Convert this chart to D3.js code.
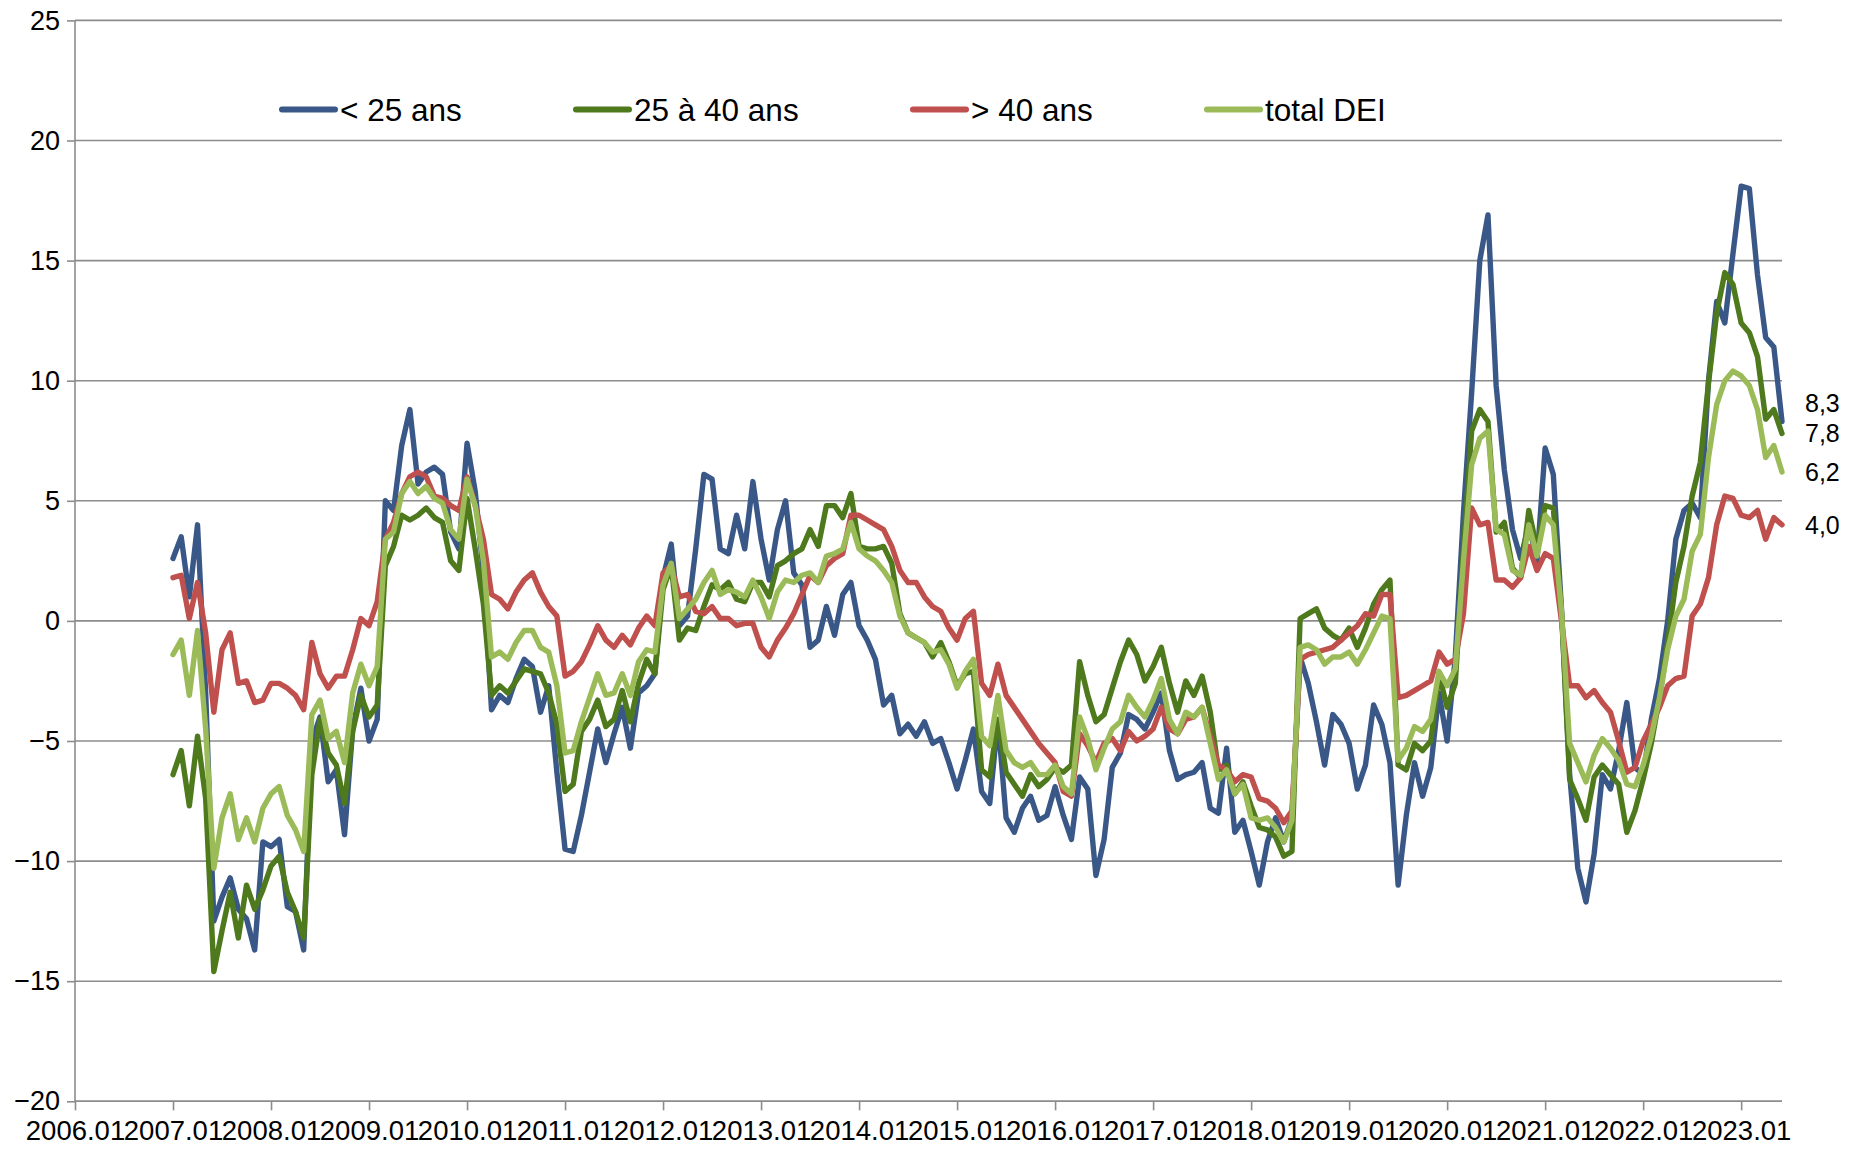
<!DOCTYPE html>
<html><head><meta charset="utf-8">
<script src="https://cdn.jsdelivr.net/npm/d3@7"></script>
<style>body{margin:0;background:#fff;} svg{display:block;}</style>
</head><body><svg id="c" width="1865" height="1153"></svg>
<script>
// ---- categories (monthly, 2006.01 .. 2023.06) ----
const categories = [];
for (let y = 2006; y <= 2023; y++) for (let m = 1; m <= 12; m++) {
  if (y === 2023 && m > 6) break;
  categories.push(y + "." + String(m).padStart(2, "0"));
}
const xTickLabels = ["2006.01","2007.01","2008.01","2009.01","2010.01","2011.01","2012.01","2013.01","2014.01","2015.01","2016.01","2017.01","2018.01","2019.01","2020.01","2021.01","2022.01","2023.01"];
const yTicks = [-20,-15,-10,-5,0,5,10,15,20,25];
const dataStart = "2007.01";

// ---- series values, monthly from 2007.01 ----
const under25 = [
 2.6,3.5,1.0,4.0,-3.0,-12.5,-11.5,-10.7,-12.0,-12.4,-13.7,-9.2,
 -9.4,-9.1,-11.9,-12.1,-13.7,-5.0,-4.0,-6.7,-6.2,-8.9,-4.5,-2.8,
 -5.0,-4.1,5.0,4.6,7.3,8.8,5.7,6.2,6.4,6.1,3.7,3.0,
 7.4,5.4,2.0,-3.7,-3.1,-3.4,-2.4,-1.6,-1.9,-3.8,-2.7,-6.3,
 -9.5,-9.6,-8.1,-6.3,-4.5,-5.9,-4.7,-3.6,-5.3,-3.0,-2.7,-2.2,
 1.8,3.2,-0.2,0.2,3.0,6.1,5.9,3.0,2.8,4.4,3.0,5.8,
 3.4,1.7,3.8,5.0,2.0,1.5,-1.1,-0.8,0.6,-0.6,1.1,1.6,
 -0.2,-0.8,-1.6,-3.5,-3.1,-4.7,-4.3,-4.8,-4.2,-5.1,-4.9,-5.9,
 -7.0,-5.8,-4.5,-7.1,-7.6,-4.1,-8.2,-8.8,-7.8,-7.3,-8.3,-8.1,
 -6.9,-8.1,-9.1,-6.5,-7.0,-10.6,-9.1,-6.1,-5.5,-3.9,-4.1,-4.5,
 -3.8,-3.0,-5.4,-6.6,-6.4,-6.3,-5.9,-7.8,-8.0,-5.3,-8.8,-8.3,
 -9.6,-11.0,-9.2,-8.2,-9.2,-8.2,-1.5,-2.6,-4.2,-6.0,-3.9,-4.3,
 -5.1,-7.0,-6.0,-3.5,-4.3,-5.9,-11.0,-8.1,-5.9,-7.3,-6.1,-3.0,
 -5.0,-1.5,4.5,9.5,15.0,16.9,9.8,6.3,3.8,2.6,4.0,2.5,
 7.2,6.1,0.5,-6.4,-10.3,-11.7,-9.7,-6.4,-7.0,-5.4,-3.4,-6.1,
 -6.4,-4.1,-2.4,0.0,3.4,4.6,4.9,4.3,10.0,13.3,12.4,15.3,
 18.1,18.0,14.4,11.8,11.4,8.3
];
const age25to40 = [
 -6.4,-5.4,-7.7,-4.8,-7.4,-14.6,-12.9,-11.3,-13.2,-11.0,-12.0,-11.2,
 -10.2,-9.8,-11.3,-12.1,-13.2,-6.4,-4.1,-5.5,-6.0,-7.6,-4.6,-3.1,
 -4.0,-3.5,2.3,3.1,4.4,4.2,4.4,4.7,4.3,4.1,2.5,2.1,
 5.1,3.0,0.7,-3.1,-2.7,-3.0,-2.5,-2.0,-2.1,-2.2,-3.0,-4.3,
 -7.1,-6.8,-4.6,-4.1,-3.3,-4.4,-4.1,-2.9,-4.2,-2.6,-1.6,-2.2,
 1.3,2.3,-0.8,-0.3,-0.4,0.6,1.5,1.3,1.6,0.9,0.8,1.6,
 1.6,1.0,2.3,2.5,2.8,3.0,3.8,3.1,4.8,4.8,4.3,5.3,
 3.1,3.0,3.0,3.1,2.4,0.3,-0.5,-0.7,-0.9,-1.5,-0.9,-1.7,
 -2.7,-2.2,-2.1,-6.2,-6.5,-4.1,-6.3,-6.8,-7.3,-6.4,-6.9,-6.6,
 -6.1,-6.3,-6.0,-1.7,-3.1,-4.2,-3.9,-2.8,-1.7,-0.8,-1.4,-2.5,
 -1.9,-1.1,-2.6,-3.8,-2.5,-3.1,-2.3,-3.8,-6.2,-6.0,-7.2,-6.7,
 -7.7,-8.6,-8.7,-9.0,-9.8,-9.6,0.1,0.3,0.5,-0.3,-0.6,-0.8,
 -0.3,-1.1,-0.3,0.7,1.3,1.7,-6.0,-6.2,-5.1,-5.4,-5.0,-2.2,
 -3.6,-2.6,3.0,7.9,8.8,8.3,3.7,4.1,2.2,1.8,4.6,3.0,
 4.8,4.7,0.4,-6.6,-7.4,-8.3,-6.5,-6.0,-6.4,-6.8,-8.8,-7.9,
 -6.6,-5.1,-3.2,-0.9,1.6,3.1,5.2,6.6,9.9,12.8,14.5,14.0,
 12.4,12.0,11.0,8.4,8.8,7.8
];
const over40 = [
 1.8,1.9,0.1,1.6,-0.5,-3.8,-1.2,-0.5,-2.6,-2.5,-3.4,-3.3,
 -2.6,-2.6,-2.8,-3.1,-3.7,-0.9,-2.2,-2.8,-2.3,-2.3,-1.2,0.1,
 -0.2,0.8,3.4,4.1,5.3,6.0,6.2,6.0,5.2,5.1,4.8,4.6,
 6.0,4.8,3.4,1.1,0.9,0.5,1.2,1.7,2.0,1.2,0.6,0.2,
 -2.3,-2.1,-1.7,-1.0,-0.2,-0.8,-1.1,-0.6,-1.0,-0.3,0.2,-0.2,
 2.0,2.3,1.0,1.1,0.4,0.3,0.6,0.1,0.1,-0.2,-0.1,-0.1,
 -1.1,-1.5,-0.8,-0.3,0.3,1.1,1.9,1.6,2.3,2.6,2.8,4.4,
 4.4,4.2,4.0,3.8,3.1,2.1,1.6,1.6,1.0,0.6,0.4,-0.3,
 -0.8,0.1,0.4,-2.6,-3.1,-1.8,-3.1,-3.6,-4.1,-4.6,-5.1,-5.5,
 -5.9,-7.1,-7.3,-4.7,-5.2,-5.9,-5.1,-4.9,-5.4,-4.6,-5.0,-4.8,
 -4.5,-3.6,-4.5,-4.7,-4.1,-4.0,-3.6,-4.8,-6.0,-6.2,-6.7,-6.4,
 -6.5,-7.4,-7.5,-7.8,-8.4,-7.9,-1.6,-1.4,-1.3,-1.2,-1.1,-0.8,
 -0.5,-0.2,0.3,0.2,1.1,1.1,-3.2,-3.1,-2.9,-2.7,-2.5,-1.3,
 -1.8,-1.6,0.3,4.7,4.0,4.1,1.7,1.7,1.4,1.8,3.1,2.1,
 2.8,2.6,0.0,-2.7,-2.7,-3.2,-2.9,-3.4,-3.8,-5.0,-6.3,-6.1,
 -5.0,-4.3,-3.6,-2.7,-2.4,-2.3,0.2,0.7,1.8,4.0,5.2,5.1,
 4.4,4.3,4.6,3.4,4.3,4.0
];
const totalDEI = [
 -1.4,-0.8,-3.1,-0.4,-4.5,-10.3,-8.2,-7.2,-9.1,-8.2,-9.2,-7.8,
 -7.2,-6.9,-8.1,-8.7,-9.6,-3.9,-3.3,-4.9,-4.6,-5.9,-3.0,-1.8,
 -2.7,-1.9,3.4,3.7,5.3,5.8,5.3,5.6,5.1,4.9,3.8,3.4,
 5.9,4.8,2.5,-1.5,-1.3,-1.6,-0.9,-0.4,-0.4,-1.1,-1.3,-2.7,
 -5.5,-5.4,-4.2,-3.2,-2.2,-3.1,-3.0,-2.2,-3.1,-1.7,-1.2,-1.3,
 1.5,2.4,0.1,0.5,0.9,1.6,2.1,1.1,1.3,1.2,1.0,1.7,
 1.0,0.1,1.2,1.7,1.6,1.9,2.0,1.6,2.7,2.8,3.0,4.1,
 3.0,2.7,2.5,2.1,1.6,0.2,-0.5,-0.7,-0.9,-1.3,-1.2,-1.8,
 -2.8,-2.1,-1.6,-4.8,-5.2,-3.1,-5.4,-5.9,-6.1,-5.9,-6.4,-6.4,
 -6.0,-6.9,-7.2,-4.0,-4.9,-6.2,-5.3,-4.5,-4.2,-3.1,-3.6,-4.0,
 -3.3,-2.4,-4.1,-4.7,-3.8,-4.0,-3.6,-5.1,-6.6,-6.2,-7.2,-6.8,
 -8.2,-8.3,-8.2,-8.6,-9.2,-8.3,-1.1,-1.0,-1.2,-1.8,-1.5,-1.5,
 -1.3,-1.8,-1.2,-0.5,0.2,0.1,-5.8,-5.3,-4.4,-4.6,-4.1,-2.1,
 -2.7,-2.0,2.5,6.5,7.6,7.9,3.8,3.6,2.1,1.9,4.0,2.7,
 4.4,4.0,0.4,-5.1,-5.9,-6.7,-5.6,-4.9,-5.3,-5.8,-6.8,-6.9,
 -6.0,-4.8,-3.2,-1.2,0.2,0.9,2.9,3.6,6.8,9.0,10.0,10.4,
 10.2,9.8,8.8,6.8,7.3,6.2
];
const seriesNames = ["< 25 ans", "25 à 40 ans", "> 40 ans", "total DEI"];
const seriesColors = ["#3a5887", "#4e791c", "#c0504d", "#9bbb59"];
const seriesValues = [under25, age25to40, over40, totalDEI];

// ---- drawing ----
const svg = d3.select("#c");
const FONT = "'Liberation Sans', Arial, sans-serif";
const L = 75, R = 1782, T = 20.4, B = 1101.3;
const x = d3.scalePoint().domain(categories).range([L, R]).padding(0);
const y = d3.scaleLinear().domain([-20, 25]).range([B, T]);
const GRID = "#8c8c8c";

// gridlines
svg.append("g").selectAll("line").data(yTicks).join("line")
  .attr("x1", L).attr("x2", R)
  .attr("y1", d => y(d)).attr("y2", d => y(d))
  .attr("stroke", GRID).attr("stroke-width", 1.6);

// y axis
const yAxis = svg.append("g").attr("transform", `translate(${L},0)`)
  .call(d3.axisLeft(y).tickValues(yTicks).tickSize(8).tickPadding(7).tickFormat(d3.format("d")));
yAxis.selectAll("path,line").attr("stroke", GRID).attr("stroke-width", 1.6);
yAxis.selectAll("text").attr("font-family", FONT).attr("font-size", 27).attr("fill", "#000");
yAxis.select(".domain").attr("d", `M0,${T}V${B}`);

// x axis
const xAxis = svg.append("g").attr("transform", `translate(0,${B})`)
  .call(d3.axisBottom(x).tickValues(xTickLabels).tickSize(9).tickPadding(10));
xAxis.selectAll("path,line").attr("stroke", GRID).attr("stroke-width", 1.6);
xAxis.select(".domain").attr("d", `M${L},0H${R}`);
xAxis.selectAll("text").attr("font-family", FONT).attr("font-size", 27.5).attr("fill", "#000");

// lines
const startIdx = categories.indexOf(dataStart);
const line = d3.line().x((d, i) => x(categories[startIdx + i])).y(d => y(d));
seriesValues.forEach((vals, k) => {
  svg.append("path").datum(vals).attr("d", line)
    .attr("fill", "none").attr("stroke", seriesColors[k]).attr("stroke-width", 5.4)
    .attr("stroke-linejoin", "round").attr("stroke-linecap", "round");
});

// end labels with simple collision avoidance (push upper label up)
const fmt = v => d3.format(".1f")(v).replace(".", ",");
const ends = seriesValues.map(v => ({ v: v[v.length - 1] })).sort((a, b) => a.v - b.v);
ends.forEach((e, i) => {
  e.y = y(e.v);
  if (i > 0 && ends[i - 1].y - e.y < 30) e.y = ends[i - 1].y - 30;
});
svg.append("g").selectAll("text").data(ends).join("text")
  .attr("x", R + 23).attr("y", d => d.y).attr("dy", "0.35em")
  .attr("font-family", FONT).attr("font-size", 25).attr("fill", "#000")
  .text(d => fmt(d.v));

// legend
const legendX = [282, 576, 913, 1207];
const legY = 109.5;
const lg = svg.append("g");
seriesNames.forEach((n, k) => {
  lg.append("line").attr("x1", legendX[k]).attr("x2", legendX[k] + 53)
    .attr("y1", legY).attr("y2", legY)
    .attr("stroke", seriesColors[k]).attr("stroke-width", 6).attr("stroke-linecap", "round");
  lg.append("text").attr("x", legendX[k] + 58).attr("y", legY).attr("dy", "0.36em")
    .attr("font-family", FONT).attr("font-size", 31.5).attr("fill", "#000").text(n);
});
</script></body></html>
